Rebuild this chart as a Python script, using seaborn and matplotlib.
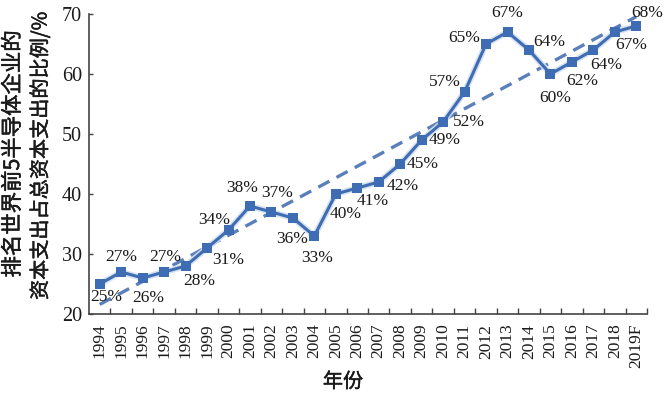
import numpy as np
import pandas as pd
import matplotlib
matplotlib.use("Agg")
import matplotlib.pyplot as plt
import matplotlib.patheffects as pe
from matplotlib.ticker import FixedLocator
import seaborn as sns

years = ["1994", "1995", "1996", "1997", "1998", "1999", "2000", "2001", "2002",
         "2003", "2004", "2005", "2006", "2007", "2008", "2009", "2010", "2011",
         "2012", "2013", "2014", "2015", "2016", "2017", "2018", "2019F"]
share = [25, 27, 26, 27, 28, 31, 34, 38, 37, 36, 33, 40, 41, 42, 45, 49, 52, 57,
         65, 67, 64, 60, 62, 64, 67, 68]
point_labels = [f"{v}%" for v in share]
# label offsets (pixels, x right / y up) relative to each point
label_dx = [7, 0, 6, 1, 14, 21, -14, -8, 6, -1, 3, 10, 15, 24, 22, 23, 26, -20, -22, 0, 20, 5, 10, 13, 16, 11]
label_dy = [-13, 15, -20, 15, -15, -12, 10, 18, 19, -21, -22, -20, -13, -4, 0, 0, 0, 10, 6, 19, 8, -24, -19, -15, -13, 13]

ytick_vals = [20, 30, 40, 50, 60, 70]
ylabel_line1 = "排名世界前5半导体企业的"
ylabel_line2 = "资本支出占总资本支出的比例/%"
xlabel_text = "年份"

sns.set_theme(style="white")
plt.rcParams["font.family"] = ["Liberation Serif", "Noto Sans CJK SC"]

df = pd.DataFrame({"idx": np.arange(len(years)), "share": share})

fig = plt.figure(figsize=(6.68, 3.96), dpi=100)
ax = fig.add_axes([89 / 668, 1 - 314 / 396, (647 - 89) / 668, 300 / 396])

line_blue = "#3e6db3"
halo = [pe.Stroke(linewidth=4.5, foreground="#d3dff1", alpha=0.9), pe.Normal()]

sns.regplot(data=df, x="idx", y="share", scatter=False, ci=None, truncate=True,
            ax=ax, line_kws=dict(color="#5b7fb9", linewidth=2.4,
                                 linestyle=(0, (3.8, 2.4)), zorder=2))
sns.lineplot(data=df, x="idx", y="share", ax=ax, color=line_blue, linewidth=2.2,
             zorder=3, path_effects=halo)
sns.scatterplot(data=df, x="idx", y="share", ax=ax, color=line_blue, marker="s",
                s=52, linewidth=0, zorder=4)

for i, (lab, dx, dy) in enumerate(zip(point_labels, label_dx, label_dy)):
    ax.annotate(lab, (i, share[i]), xytext=(dx, dy), textcoords="offset pixels",
                ha="center", va="center", fontsize=12.5, color="#1a1a1a",
                family="Liberation Serif", zorder=5)

ax.set_xlim(-0.5, len(years) - 0.5)
ax.set_ylim(20, 70)
ax.set_xticks(np.arange(len(years)))
ax.set_xticklabels(years, rotation=90, fontsize=12.5, color="#1a1a1a")
ax.xaxis.set_minor_locator(FixedLocator(np.arange(0.5, len(years), 1.0)))
ax.tick_params(axis="x", which="major", length=0, pad=7)
ax.tick_params(axis="x", which="minor", length=4, width=1, direction="in",
               color="#444444", bottom=True)
ax.set_yticks(ytick_vals)
ax.set_yticklabels([str(v) for v in ytick_vals], fontsize=14.5, color="#1a1a1a")
ax.tick_params(axis="y", length=3, width=1, direction="in", color="#444444",
               left=True, pad=5)

for side in ["top", "right"]:
    ax.spines[side].set_visible(False)
for side in ["left", "bottom"]:
    ax.spines[side].set_color("#444444")
    ax.spines[side].set_linewidth(1.2)

ax.set_xlabel("")
ax.set_ylabel("")
cjk = ["Noto Sans CJK SC", "DejaVu Sans"]
heavier = [pe.withStroke(linewidth=0.35, foreground="#1a1a1a")]
fig.text(13 / 668, 1 - 154 / 396, ylabel_line1, rotation=90, ha="center",
         va="center", fontsize=15.4, family=cjk, color="#1a1a1a",
         path_effects=heavier)
fig.text(41 / 668, 1 - 156 / 396, ylabel_line2, rotation=90, ha="center",
         va="center", fontsize=14.5, family=cjk, color="#1a1a1a",
         path_effects=heavier)
fig.text(343 / 668, 1 - 382 / 396, xlabel_text, ha="center", va="center",
         fontsize=14.5, family=cjk, color="#1a1a1a", path_effects=heavier)

fig.savefig("out.png", dpi=100)
